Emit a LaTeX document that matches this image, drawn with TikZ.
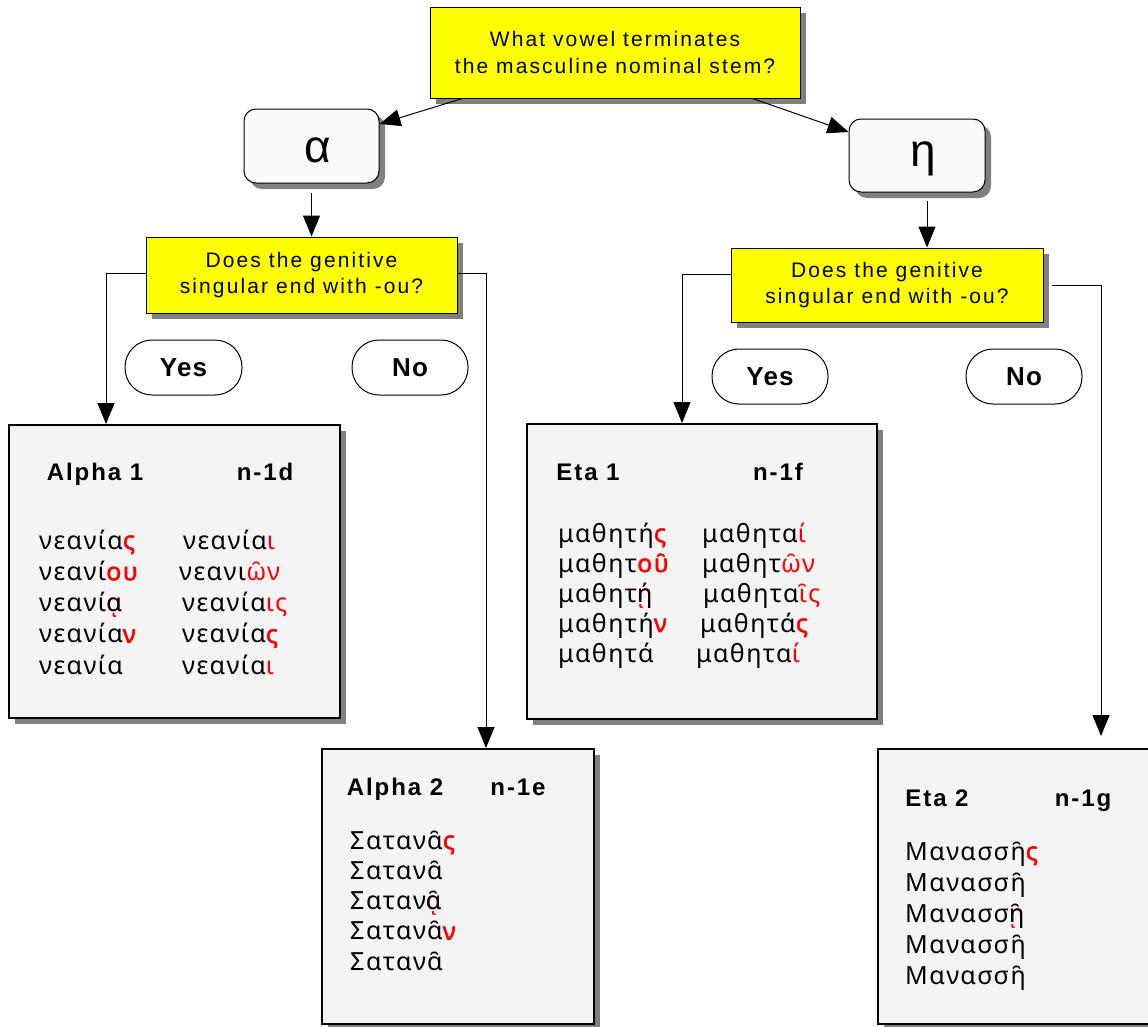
\documentclass[tikz,border=0pt]{standalone}
\usepackage{fontspec}
\setmainfont{Liberation Sans}
\newfontfamily\qfont[LetterSpace=10]{Liberation Sans}
\newfontfamily\tfont[LetterSpace=8]{Liberation Sans}
\newfontfamily\ynfont[LetterSpace=5]{Liberation Sans}
\newfontfamily\grk[LetterSpace=6]{Noto Sans}
\newfontfamily\grkb[LetterSpace=6,FakeBold=2]{Noto Sans}
\usetikzlibrary{shadows,arrows.meta}
\definecolor{shgray}{RGB}{128,128,128}
\definecolor{boxgray}{RGB}{244,244,244}
\definecolor{vgray}{RGB}{250,250,250}
\definecolor{qyellow}{RGB}{255,255,0}
\newcommand{\rd}[1]{\textcolor{red}{#1}}
\newcommand{\rb}[1]{\textcolor{red}{\grkb #1}}
\newcommand{\rsub}[2]{\rlap{\textcolor{red}{#1}}#2}
\tikzset{
  shd/.style={drop shadow={shadow xshift=6pt, shadow yshift=-6pt, fill=shgray, opacity=1}},
  qbox/.style={draw=black, line width=1pt, fill=qyellow, inner sep=0pt, align=center,
    font=\qfont\fontsize{21}{26.5}\selectfont, shd},
  vbox/.style={draw=black, line width=1pt, fill=vgray, rounded corners=12pt, inner sep=0pt, shd},
  pill/.style={draw=black, line width=1pt, fill=white, rounded corners=27pt, inner sep=0pt,
    font=\ynfont\bfseries\fontsize{26}{30}\selectfont},
  dbox/.style={draw=black, line width=2pt, fill=boxgray, inner sep=0pt, shd},
  ttl/.style={anchor=base, inner sep=0pt, font=\tfont\bfseries\fontsize{24}{28}\selectfont},
  gk/.style={anchor=base west, inner sep=0pt, font=\grk\fontsize{25}{29}\selectfont},
  glyph/.style={anchor=base, inner sep=0pt, font=\fontsize{46}{50}\selectfont},
  arr/.style={line width=1pt, -{Triangle[length=21pt,width=17pt]}}
}
\begin{document}
\begin{tikzpicture}[x=1pt,y=-1pt]
\fill[white] (0,0) rectangle (1148,1026);
\useasboundingbox (0,0) rectangle (1148,1026);

% question boxes
\node[qbox, minimum width=370pt, minimum height=91pt] (top) at (615,52.5)
  {What vowel terminates\\the masculine nominal stem?};
\node[qbox, minimum width=311pt, minimum height=76pt] (q1) at (301.5,275)
  {Does the genitive\\singular end with -ou?};
\node[qbox, minimum width=312pt, minimum height=74pt] (q2) at (887,285)
  {Does the genitive\\singular end with -ou?};

% vowel boxes
\node[vbox, minimum width=135pt, minimum height=74pt] (abox) at (311.5,146) {};
\node[glyph] (aglyph) at (318,162) {α};
\node[vbox, minimum width=136pt, minimum height=73pt] (ebox) at (917,155.5) {};
\node[glyph] (eglyph) at (923,166) {η};

% yes / no
\node[pill, minimum width=117pt, minimum height=55pt] (yes1) at (183.5,367.5) {Yes};
\node[pill, minimum width=116pt, minimum height=55pt] (no1) at (410,367.5) {No};
\node[pill, minimum width=116pt, minimum height=55pt] (yes2) at (770,376.5) {Yes};
\node[pill, minimum width=116pt, minimum height=55pt] (no2) at (1024,376.5) {No};

% declension boxes
\node[dbox, minimum width=331pt, minimum height=293pt] (a1box) at (174.5,571.5) {};
\node[dbox, minimum width=350pt, minimum height=295pt] (e1box) at (702,571.5) {};
\node[dbox, minimum width=272pt, minimum height=275pt] (a2box) at (458,886.5) {};
\node[dbox, minimum width=274pt, minimum height=275pt] (e2box) at (1015,886.5) {};

% titles
\node[ttl] (a1t) at (95,480) {Alpha 1};
\node[ttl] (a1n) at (265,480) {n-1d};
\node[ttl] (e1t) at (588,480) {Eta 1};
\node[ttl] (e1n) at (778,480) {n-1f};
\node[ttl] (a2t) at (395,795) {Alpha 2};
\node[ttl] (a2n) at (518,795) {n-1e};
\node[ttl] (e2t) at (937,806) {Eta 2};
\node[ttl] (e2n) at (1083,806) {n-1g};

% Alpha 1
\foreach \myw [count=\i] in {{νεανία\rb{ς}},{νεανί\rb{ου}},{νεανί\rsub{ᾳ}{α}},{νεανία\rb{ν}},{νεανία}}
  \node[gk] (a1l\i) at (39,{549+31.25*(\i-1)}) {\myw};
\foreach \myx/\myw [count=\i] in {183/{νεανία\rd{ι}},179/{νεανι\rd{ω̑ν}},182/{νεανία\rd{ις}},182/{νεανία\rb{ς}},182/{νεανία\rd{ι}}}
  \node[gk] (a1r\i) at (\myx,{549+31.25*(\i-1)}) {\myw};

% Eta 1
\foreach \myw [count=\i] in {{μαθητή\rb{ς}},{μαθητ\rb{ου̑}},{μαθητ\rsub{ῃ}{ή}},{μαθητή\rb{ν}},{μαθητά}}
  \node[gk] (e1l\i) at (558,{542+30*(\i-1)}) {\myw};
\foreach \myx/\myw [count=\i] in {702/{μαθητα\rd{ί}},702/{μαθητ\rd{ω̑ν}},703/{μαθητα\rd{ι̑ς}},700/{μαθητά\rb{ς}},696/{μαθητα\rd{ί}}}
  \node[gk] (e1r\i) at (\myx,{542+30*(\i-1)}) {\myw};

% Alpha 2
\foreach \myw [count=\i] in {{Σατανα̑\rb{ς}},{Σατανα̑},{Σαταν\rsub{ᾳ}{α̑}},{Σατανα̑\rb{ν}},{Σατανα̑}}
  \node[gk] (a2l\i) at (350,{849+30.3*(\i-1)}) {\myw};

% Eta 2
\foreach \myw [count=\i] in {{Μανασση̑\rb{ς}},{Μανασση̑},{Μανασσ\rsub{ῃ}{η̑}},{Μανασση̑},{Μανασση̑}}
  \node[gk] (e2l\i) at (905,{860+31*(\i-1)}) {\myw};

% connectors
\draw[arr] ([xshift=33pt]top.south west) -- ([yshift=22pt]abox.east);
\draw[arr] ([xshift=-48pt]top.south east) -- ([yshift=23.5pt]ebox.west);
\coordinate (ad) at ([yshift=-9pt]abox.south);
\draw[arr] (ad) -- (ad |- q1.north);
\coordinate (ed) at ([xshift=10pt,yshift=-8pt]ebox.south);
\draw[arr] (ed) -- (ed |- q2.north);
\draw[arr] ([yshift=2pt]q1.west) -| ([xshift=98pt]a1box.north west);
\draw[arr] ([yshift=2pt]q1.east) -| ([xshift=165pt]a2box.north west);
\draw[arr] ([yshift=11pt]q2.west) -| ([xshift=156pt]e1box.north west);
\draw[arr, shorten >=12pt] ([xshift=8pt]q2.east) -| ([xshift=224pt]e2box.north west);
\end{tikzpicture}
\end{document}
